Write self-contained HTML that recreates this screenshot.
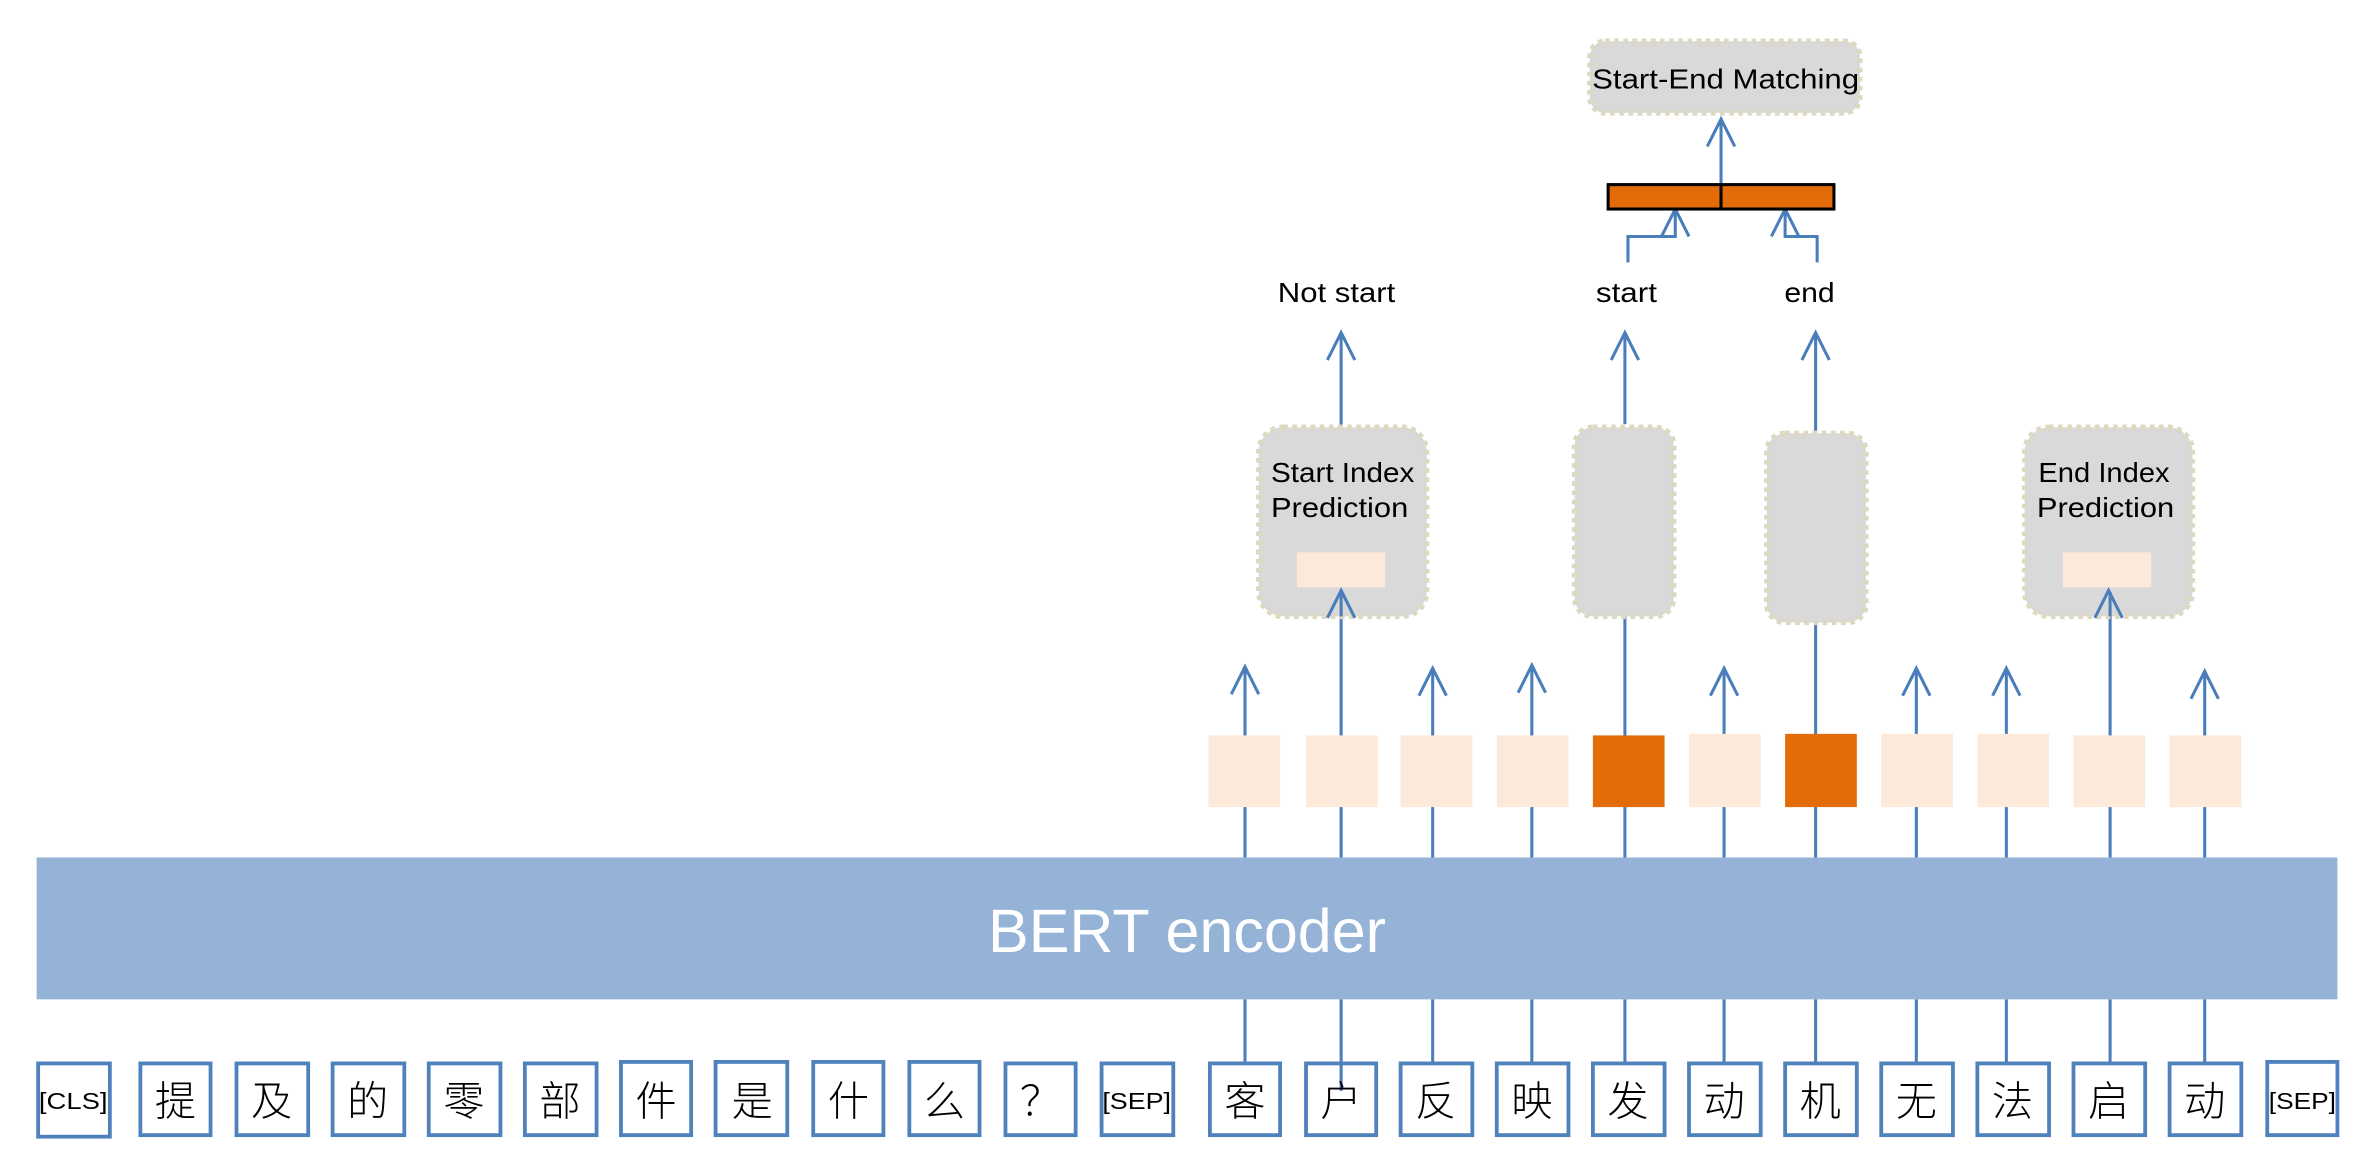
<!DOCTYPE html>
<html><head><meta charset="utf-8"><style>html,body{margin:0;padding:0;background:#fff;}svg{display:block}</style></head><body>
<svg width="2371" height="1171" viewBox="0 0 1554 767.5" preserveAspectRatio="none" xmlns="http://www.w3.org/2000/svg">
<defs>
<g id="ah"><path d="M-9,18 L0,0 L9,18" fill="none" stroke="#4a7ebb" stroke-width="2"/></g>
</defs>
<g stroke="#4a7ebb" stroke-width="2" fill="none">
<path d="M816,655V696M879,655V715M939,655V696M1004,655V696M1065,655V696M1130,655V696M1190,655V696M1256,655V696M1315,655V696M1383,655V696M1445,655V696"/>
<path d="M816,562V438M879,562V388M939,562V438M1004,562V436M1065,562V404M1130,562V438M1190,562V408M1256,562V438M1315,562V438M1383,562V388M1445,562V440"/>
<path d="M879,280V219M1065,278V219M1190,284V219"/>
<path d="M1067,172V155H1098V138M1191,172V155H1170V138M1128,121V79"/>
</g>
<g>
<use href="#ah" x="816" y="437"/><use href="#ah" x="939" y="438"/><use href="#ah" x="1004" y="436"/>
<use href="#ah" x="1130" y="438"/><use href="#ah" x="1256" y="438"/><use href="#ah" x="1315" y="438"/><use href="#ah" x="1445" y="440"/>
<use href="#ah" x="879" y="218"/><use href="#ah" x="1065" y="218"/><use href="#ah" x="1190" y="218"/>
<use href="#ah" x="1098" y="137"/><use href="#ah" x="1170" y="137"/><use href="#ah" x="1128" y="78"/>
</g>
<rect x="24" y="562" width="1508" height="93" fill="#95b3d7"/>
<text x="778" y="624" font-family="Liberation Sans, sans-serif" font-size="40" fill="#fff" text-anchor="middle">BERT encoder</text>
<g fill="#fde9d9">
<rect x="792" y="482" width="47" height="47"/><rect x="856" y="482" width="47" height="47"/><rect x="918" y="482" width="47" height="47"/><rect x="981" y="482" width="47" height="47"/>
<rect x="1107" y="481" width="47" height="48"/><rect x="1233" y="481" width="47" height="48"/><rect x="1296" y="481" width="47" height="48"/><rect x="1359" y="482" width="47" height="47"/><rect x="1422" y="482" width="47" height="47"/>
</g>
<rect x="1044" y="482" width="47" height="47" fill="#e36c09"/>
<rect x="1170" y="481" width="47" height="48" fill="#e36c09"/>
<g fill="#d9d9d9" stroke="#ddd8c0" stroke-width="3.5" stroke-dasharray="3,3">
<rect x="825" y="280" width="110" height="124" rx="16"/>
<rect x="1032" y="280" width="65" height="124" rx="12"/>
<rect x="1158" y="284" width="65" height="124" rx="12"/>
<rect x="1327" y="280" width="110" height="124" rx="16"/>
<rect x="1042" y="27" width="177" height="47" rx="10"/>
</g>
<rect x="850" y="362" width="58" height="23" fill="#fde9d9"/>
<rect x="1352" y="362" width="58" height="23" fill="#fde9d9"/>
<g stroke="#4a7ebb" stroke-width="2" fill="none"><path d="M879,404V388M1383,404V388"/></g>
<use href="#ah" x="879" y="387"/><use href="#ah" x="1382" y="387"/>
<g font-family="Liberation Sans, sans-serif" font-size="18" fill="#000" text-anchor="middle">
<text x="880" y="316" textLength="94" lengthAdjust="spacingAndGlyphs">Start Index</text><text x="878" y="339" textLength="90" lengthAdjust="spacingAndGlyphs">Prediction</text>
<text x="1379" y="316" textLength="86" lengthAdjust="spacingAndGlyphs">End Index</text><text x="1380" y="339" textLength="90" lengthAdjust="spacingAndGlyphs">Prediction</text>
<text x="876" y="198" textLength="77" lengthAdjust="spacingAndGlyphs">Not start</text><text x="1066" y="198" textLength="40" lengthAdjust="spacingAndGlyphs">start</text><text x="1186" y="198" textLength="33" lengthAdjust="spacingAndGlyphs">end</text>
<text x="1131" y="58" textLength="175" lengthAdjust="spacingAndGlyphs">Start-End Matching</text>
</g>
<rect x="1054" y="121" width="148" height="16" fill="#e36c09" stroke="#000" stroke-width="2"/>
<line x1="1128" y1="121" x2="1128" y2="137" stroke="#000" stroke-width="2"/>
<g fill="#fff" stroke="#4f81bd" stroke-width="2.5">
<rect x="25" y="697" width="47" height="48"/><rect x="92" y="697" width="46" height="47"/><rect x="155" y="697" width="47" height="47"/><rect x="218" y="697" width="47" height="47"/><rect x="281" y="697" width="47" height="47"/><rect x="344" y="697" width="47" height="47"/><rect x="407" y="696" width="46" height="48"/><rect x="469" y="696" width="47" height="48"/><rect x="533" y="696" width="46" height="48"/><rect x="596" y="696" width="46" height="48"/><rect x="659" y="697" width="46" height="47"/><rect x="722" y="697" width="47" height="47"/>
<rect x="793" y="697" width="46" height="47"/><rect x="856" y="697" width="46" height="47"/><rect x="918" y="697" width="47" height="47"/><rect x="981" y="697" width="47" height="47"/><rect x="1044" y="697" width="47" height="47"/><rect x="1107" y="697" width="47" height="47"/><rect x="1170" y="697" width="47" height="47"/><rect x="1233" y="697" width="47" height="47"/><rect x="1296" y="697" width="47" height="47"/><rect x="1359" y="697" width="47" height="47"/><rect x="1422" y="697" width="47" height="47"/><rect x="1486" y="696" width="46" height="48"/>
</g>
<line x1="879" y1="697" x2="879" y2="715" stroke="#4a7ebb" stroke-width="2"/>
<g font-family="Liberation Sans, 'Noto Sans CJK SC', sans-serif" font-size="27" fill="#000" text-anchor="middle" font-weight="300">
<text x="115" y="731">提</text><text x="178" y="731">及</text><text x="241" y="731">的</text><text x="304" y="731">零</text><text x="367" y="731">部</text><text x="430" y="731">件</text><text x="493" y="731">是</text><text x="556" y="731">什</text><text x="619" y="731">么</text><text x="682" y="731" font-family="'Noto Sans CJK SC', sans-serif">？</text>
<text x="816" y="731">客</text><text x="879" y="731">户</text><text x="941" y="731">反</text><text x="1004" y="731">映</text><text x="1067" y="731">发</text><text x="1130" y="731">动</text><text x="1193" y="731">机</text><text x="1256" y="731">无</text><text x="1319" y="731">法</text><text x="1382" y="731">启</text><text x="1445" y="731">动</text>
</g>
<g font-family="Liberation Sans, sans-serif" font-size="15" fill="#000" text-anchor="middle">
<text x="48" y="727" textLength="45" lengthAdjust="spacingAndGlyphs">[CLS]</text>
<text x="745" y="727" textLength="45" lengthAdjust="spacingAndGlyphs">[SEP]</text>
<text x="1509" y="727" textLength="44" lengthAdjust="spacingAndGlyphs">[SEP]</text>
</g>
</svg>
</body></html>
